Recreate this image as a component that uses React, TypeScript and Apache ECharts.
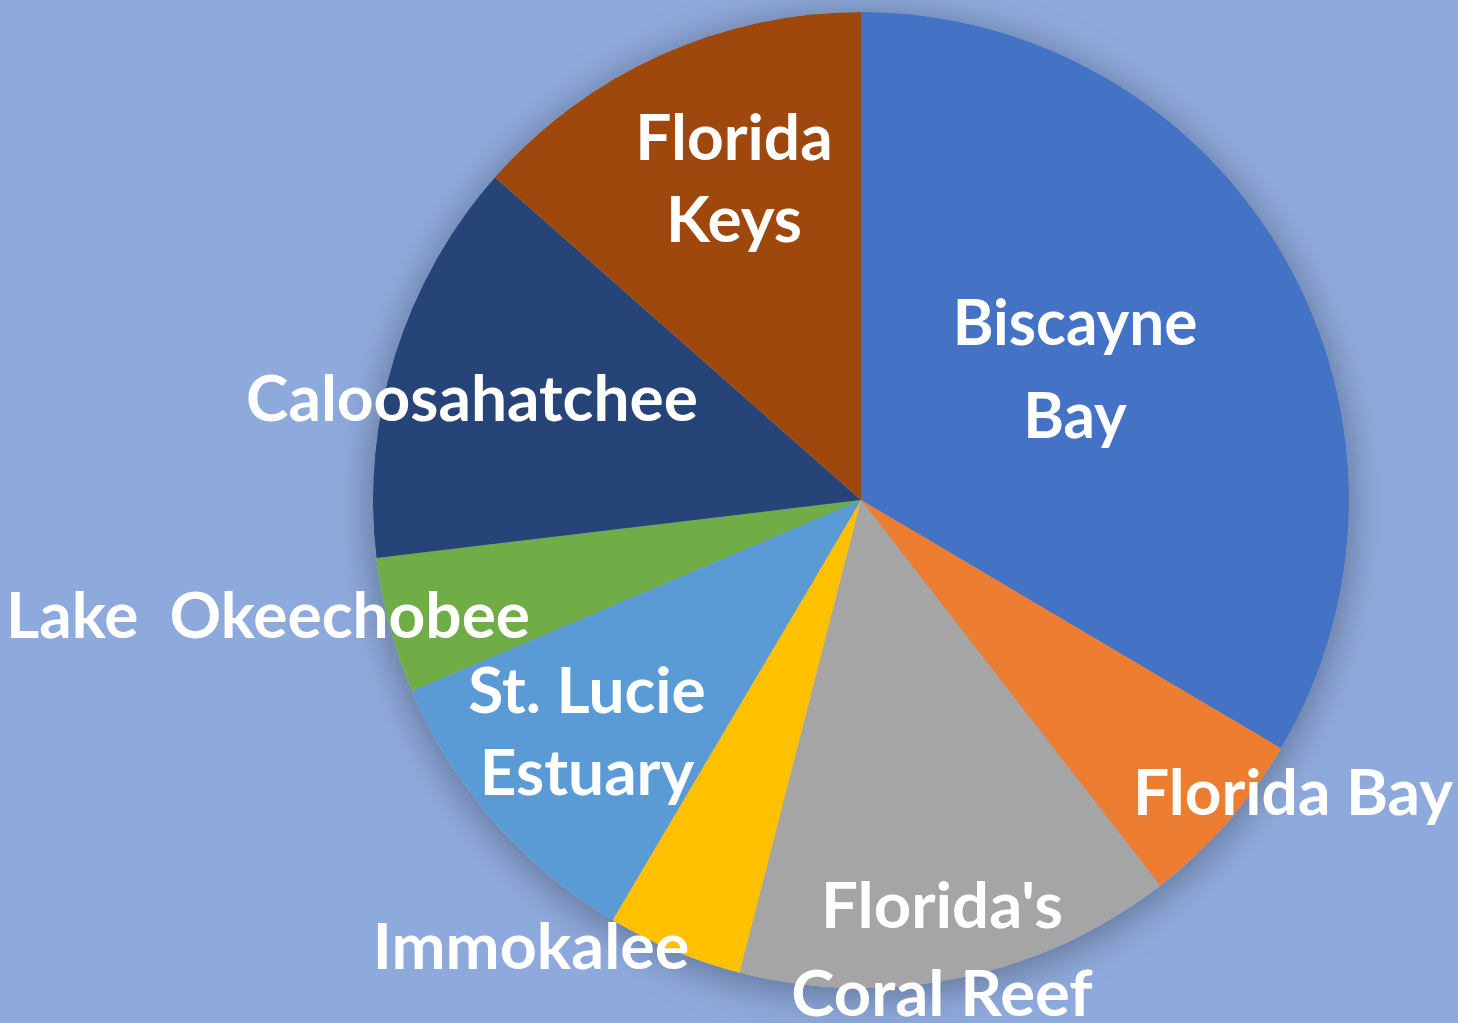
import React, { useEffect, useRef } from "react";
import * as echarts from "echarts";

const categories = [
  "Biscayne Bay",
  "Florida Bay",
  "Florida's Coral Reef",
  "Immokalee",
  "St. Lucie Estuary",
  "Lake  Okeechobee",
  "Caloosahatchee",
  "Florida Keys",
];
const values = [33.5, 6.0, 14.5, 4.5, 10.1, 4.5, 13.4, 13.5];
const colors = ["#4472C4", "#ED7D31", "#A5A5A5", "#FFC000", "#5B9BD5", "#70AD47", "#264478", "#9E480E"];

// label placement (line breaks and positions)
const labelLines = [
  ["Biscayne", "Bay"],
  ["Florida Bay"],
  ["Florida's", "Coral Reef"],
  ["Immokalee"],
  ["St. Lucie", "Estuary"],
  ["Lake  Okeechobee"],
  ["Caloosahatchee"],
  ["Florida", "Keys"],
];
const labelPos = [
  [1075, 320, 0.97, 93],
  [1293, 790, 1, 0],
  [942, 903, 1.02, 88],
  [531, 945, 1.01, 0],
  [587, 688, 1, 82],
  [268, 613, 1, 0],
  [472, 396, 1, 0],
  [734, 135, 1, 82],
];

export default function App() {
  const ref = useRef<HTMLDivElement>(null);
  useEffect(() => {
    document.body.style.margin = "0";
    const chart = echarts.init(ref.current!, null, { renderer: "svg" });
    const total = values.reduce((a, b) => a + b, 0);
    const graphics: any[] = [];
    labelLines.forEach((lines, i) => {
      const [x, y, sx, gap] = labelPos[i];
      lines.forEach((t, j) => {
        graphics.push({
          type: "text",
          x,
          y: y + j * gap,
          scaleX: sx,
          z: 100,
          style: {
            text: t,
            fill: "#ffffff",
            font: "bold 64px Lato",
            align: "center",
            verticalAlign: "middle",
          },
        });
      });
    });
    chart.setOption({
      animation: false,
      backgroundColor: "#8EA9DB",
      graphic: graphics,
      series: [
        {
          type: "pie",
          center: [861, 500],
          radius: [0, 488],
          silent: true,
          z: 1,
          label: { show: false },
          labelLine: { show: false },
          data: [{ value: total, itemStyle: { color: "#8EA9DB", shadowBlur: 40, shadowColor: "rgba(0,0,0,0.35)", shadowOffsetY: 6 } }],
        },
        {
          type: "pie",
          center: [861, 500],
          radius: [0, 488],
          startAngle: 90,
          clockwise: true,
          z: 2,
          label: { show: false },
          labelLine: { show: false },
          itemStyle: { borderWidth: 0 },
          data: categories.map((c, i) => ({ name: c, value: values[i], itemStyle: { color: colors[i] } })),
        },
      ],
    });
    return () => chart.dispose();
  }, []);
  return <div ref={ref} style={{ width: 1458, height: 1023 }} />;
}
